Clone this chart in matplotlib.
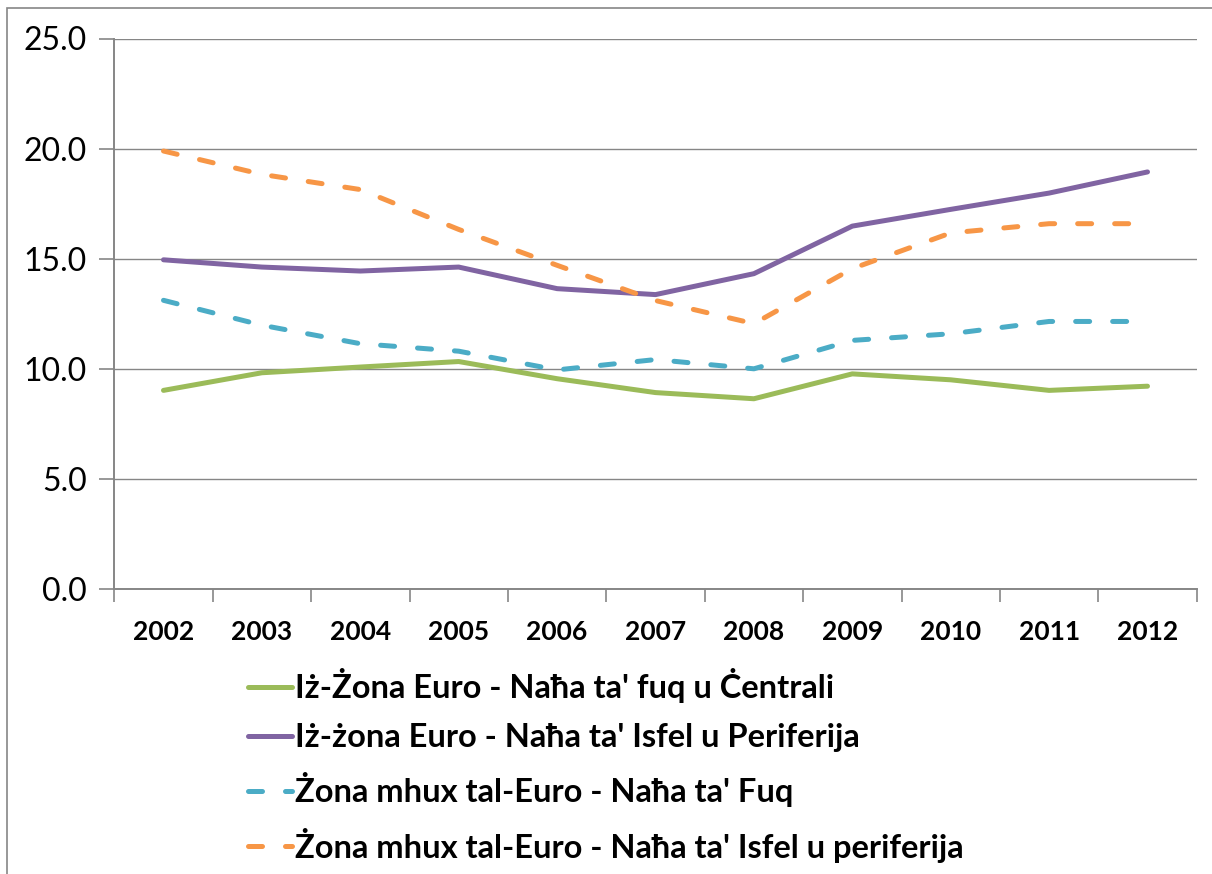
import numpy as np
import matplotlib.pyplot as plt
from matplotlib.patches import Rectangle

years = ["2002", "2003", "2004", "2005", "2006", "2007", "2008", "2009", "2010", "2011", "2012"]

euro_centre = [9.02, 9.82, 10.08, 10.33, 9.55, 8.92, 8.64, 9.77, 9.50, 9.02, 9.21]
euro_periphery = [14.95, 14.62, 14.44, 14.62, 13.64, 13.37, 14.32, 16.48, 17.24, 17.98, 18.94]
noneuro_top = [13.11, 11.98, 11.14, 10.80, 9.95, 10.42, 10.00, 11.29, 11.59, 12.15, 12.15]
noneuro_periphery = [19.89, 18.83, 18.14, 16.33, 14.70, 13.10, 12.05, 14.55, 16.17, 16.59, 16.59]

labels = ["Iż-Żona Euro - Naħa ta' fuq u Ċentrali",
          "Iż-żona Euro - Naħa ta' Isfel u Periferija",
          "Żona mhux tal-Euro - Naħa ta' Fuq",
          "Żona mhux tal-Euro - Naħa ta' Isfel u periferija"]
colors = ["#9BBB59", "#8064A2", "#4BACC6", "#F79646"]

plt.rcParams['font.family'] = ['Lato', 'DejaVu Sans']

fig = plt.figure(figsize=(12.12, 8.74), dpi=100)
# outer chart frame (cut off at right and bottom like the reference)
fig.patches.append(Rectangle((7 / 1212, -0.05), 1.1, (874 - 8) / 874 + 0.05,
                             transform=fig.transFigure, fill=False,
                             edgecolor="#868686", lw=1.2))

ax = fig.add_axes([114.3 / 1212, 1 - 589 / 874, (1196.7 - 114.3) / 1212, (589 - 38.5) / 874])

x = np.arange(len(years))
lw = 3.6
series = [euro_centre, euro_periphery, noneuro_top, noneuro_periphery]
for i, (vals, lab, col) in enumerate(zip(series, labels, colors)):
    if i < 2:
        ax.plot(x, vals, color=col, lw=lw, label=lab, solid_capstyle="round",
                solid_joinstyle="round")
    else:
        ax.plot(x, vals, color=col, lw=lw, label=lab, dashes=(2.8, 4.6),
                dash_capstyle="round", dash_joinstyle="round")

ax.set_xlim(-0.5, len(years) - 0.5)
ax.set_ylim(0, 25)
ax.set_yticks(np.arange(0, 25.1, 5))
ax.set_yticklabels([f"{v:.1f}" for v in np.arange(0, 25.1, 5)], fontsize=23)
ax.yaxis.grid(True, color="#868686", lw=1.0)
ax.set_axisbelow(True)

ax.set_xticks(np.arange(-0.5, len(years), 1.0))
ax.set_xticklabels([])
ax.set_xticks(x, minor=True)
ax.set_xticklabels(years, minor=True, fontsize=19, fontweight="bold")
ax.tick_params(axis="x", which="major", length=9, width=1.2, color="#868686")
ax.tick_params(axis="x", which="minor", length=0, pad=22)
ax.tick_params(axis="y", length=11, width=1.2, color="#868686", pad=9)

for s in ["top", "right"]:
    ax.spines[s].set_visible(False)
for s in ["left", "bottom"]:
    ax.spines[s].set_color("#868686")
    ax.spines[s].set_linewidth(1.4)

leg = fig.legend(loc="upper left", bbox_to_anchor=(248 / 1212, 1 - 668 / 874),
                 frameon=False, prop={"size": 23.5, "weight": "bold"},
                 handlelength=1.35, handletextpad=0.1, labelspacing=0.62,
                 borderpad=0, borderaxespad=0)

fig.savefig("out.png", dpi=100)
